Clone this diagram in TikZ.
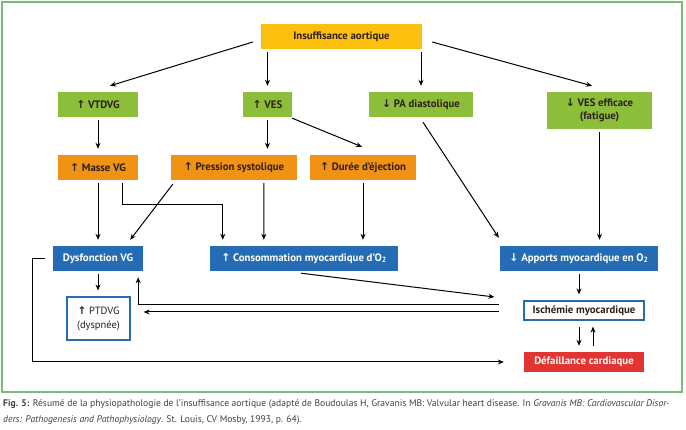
\documentclass[tikz,border=0pt]{standalone}
\usepackage{fontspec}
\setmainfont{PT Sans}
\newfontfamily\flechefont{DejaVu Sans}
\usetikzlibrary{calc,arrows.meta}
\definecolor{jaune}{RGB}{253,192,14}
\definecolor{vert}{RGB}{141,190,58}
\definecolor{orange}{RGB}{240,146,20}
\definecolor{bleu}{RGB}{38,108,180}
\definecolor{rouge}{RGB}{226,52,50}
\definecolor{cadre}{RGB}{120,188,120}
\definecolor{brun}{RGB}{45,32,22}
\newcommand{\hausse}{{\flechefont\bfseries ↑}}
\newcommand{\baisse}{{\flechefont\bfseries ↓}}

\begin{document}
\begin{tikzpicture}[x=1pt,y=-1pt,
  boite/.style={inner sep=0pt, minimum height=25pt, align=center, font=\fontsize{10.8}{12.5}\selectfont\bfseries},
  jboite/.style={boite, fill=jaune, text=brun},
  vboite/.style={boite, fill=vert, text=brun},
  oboite/.style={boite, fill=orange, text=brun},
  bboite/.style={boite, fill=bleu, text=white},
  rboite/.style={boite, fill=rouge, text=white},
  cboite/.style={boite, fill=white, draw=bleu, line width=1.2pt, text=brun},
  fl/.style={line width=1pt, -{Stealth[length=6pt,width=5pt]}, shorten <=3pt, shorten >=6pt},
  fld/.style={line width=1pt, -{Stealth[length=6pt,width=5pt]}},
  legende/.style={inner sep=0pt, align=left, text=black!75, font=\fontsize{9.6}{16}\selectfont}]
  \useasboundingbox (0,0) rectangle (686,430);
  \fill[white] (0,0) rectangle (686,430);
  \draw[cadre, line width=1.5pt] (2,2) rectangle (682,392);

  % boites
  \node[jboite, minimum width=161pt] (ins) at (341.5,36.5) {Insuffisance aortique};
  \node[vboite, minimum width=80pt] (vtdvg) at (98,104.5) {\hausse\ VTDVG};
  \node[vboite, minimum width=49pt] (ves) at (267.5,104.5) {\hausse\ VES};
  \node[vboite, minimum width=104pt] (pa) at (421,104.5) {\baisse\ PA diastolique};
  \node[vboite, minimum width=105pt, minimum height=37pt] (vese) at (599.5,110.5) {\baisse\ VES efficace\\(fatigue)};
  \node[oboite, minimum width=80pt] (masse) at (98,167.5) {\hausse\ Masse VG};
  \node[oboite, minimum width=126pt] (pres) at (234,167.5) {\hausse\ Pression systolique};
  \node[oboite, minimum width=106pt] (duree) at (363,167.5) {\hausse\ Durée d'éjection};
  \node[bboite, minimum width=90pt] (dysf) at (98,258.5) {Dysfonction VG};
  \node[bboite, minimum width=188pt] (conso) at (304,258.5) {\hausse\ Consommation myocardique d'O\textsubscript{2}};
  \node[bboite, minimum width=158pt] (appo) at (579,258.5) {\baisse\ Apports myocardique en O\textsubscript{2}};
  \node[cboite, minimum width=63pt, minimum height=43pt, font=\fontsize{10.5}{14}\selectfont] (ptdvg) at (98.5,318.5) {\hausse\ PTDVG\\(dyspnée)};
  \node[cboite, minimum width=120pt, minimum height=19pt] (isch) at (584,310.5) {Ischémie myocardique};
  \node[rboite, minimum width=120pt, minimum height=20pt] (defa) at (584,362) {Défaillance cardiaque};

  % fleches
  \draw[fld] ($(ins.west)+(-8,5.5)$) -- ($(vtdvg.north)+(12,-6)$);
  \draw[fl] (ves.north|-ins.south) -- (ves.north);
  \draw[fl] (pa.north|-ins.south) -- (pa.north);
  \draw[fld] ($(ins.east)+(10,5.5)$) -- ($(vese.north)+(-7.5,-6)$);
  \draw[fl] (vtdvg.south) -- (masse.north);
  \draw[fl] (ves.south) -- (ves.south|-pres.north);
  \draw[fld] ($(ves.south east)+(0,1)$) -- ($(duree.north)+(-1,-8)$);
  \draw[fld] ($(pa.south)+(2,5)$) -- ($(appo.north west)+(-1,-8)$);
  \draw[fl] (vese.south) -- (vese.south|-appo.north);
  \draw[fl] (masse.south) -- (dysf.north);
  \draw[fl] ($(masse.south)+(24,0)$) -- ++(0,24) -| ($(conso.north west)+(13,0)$);
  \draw[fld] ($(pres.south west)+(2,4)$) -- ($(dysf.north east)+(-13,-6)$);
  \draw[fl] ($(pres.south)+(30,0)$) -- ($(conso.north west)+(54,0)$);
  \draw[fl] (duree.south) -- (duree.south|-conso.north);
  \draw[fld] ($(conso.south)+(-3,2)$) -- ($(isch.west)+(-29,-13.5)$);
  \draw[fl] ($(isch.west)+(-21,-5.5)$) -| ($(dysf.south east)+(-5,0)$);
  \draw[fl] ($(isch.west)+(-21,1.5)$) -- ($(ptdvg.east)+(7,-6.5)$);
  \draw[fl] (dysf.south) -- (dysf.south|-ptdvg.north);
  \draw[fl] ($(dysf.west)+(-5,0)$) -- ++(-15,0) |- ($(defa.west)+(-14,0)$);
  \draw[fl] (appo.south) -- (appo.south|-isch.north);
  \draw[fl, shorten <=6pt] ($(isch.south)+(-5,0)$) -- ($(defa.north)+(-5,0)$);
  \draw[fl, shorten <=6pt] ($(defa.north)+(9,0)$) -- ($(isch.south)+(9,0)$);

  % legende
  \node[legende, anchor=north west] (leg) at (3,399) {\textbf{Fig. 5:} Résumé de la physiopathologie de l'insuffisance aortique (adapté de Boudoulas H, Gravanis MB: Valvular heart disease. In \textit{Gravanis MB: Cardiovascular Disor-}\\\textit{ders: Pathogenesis and Pathophysiology}. St. Louis, CV Mosby, 1993, p. 64).};
\end{tikzpicture}
\end{document}
